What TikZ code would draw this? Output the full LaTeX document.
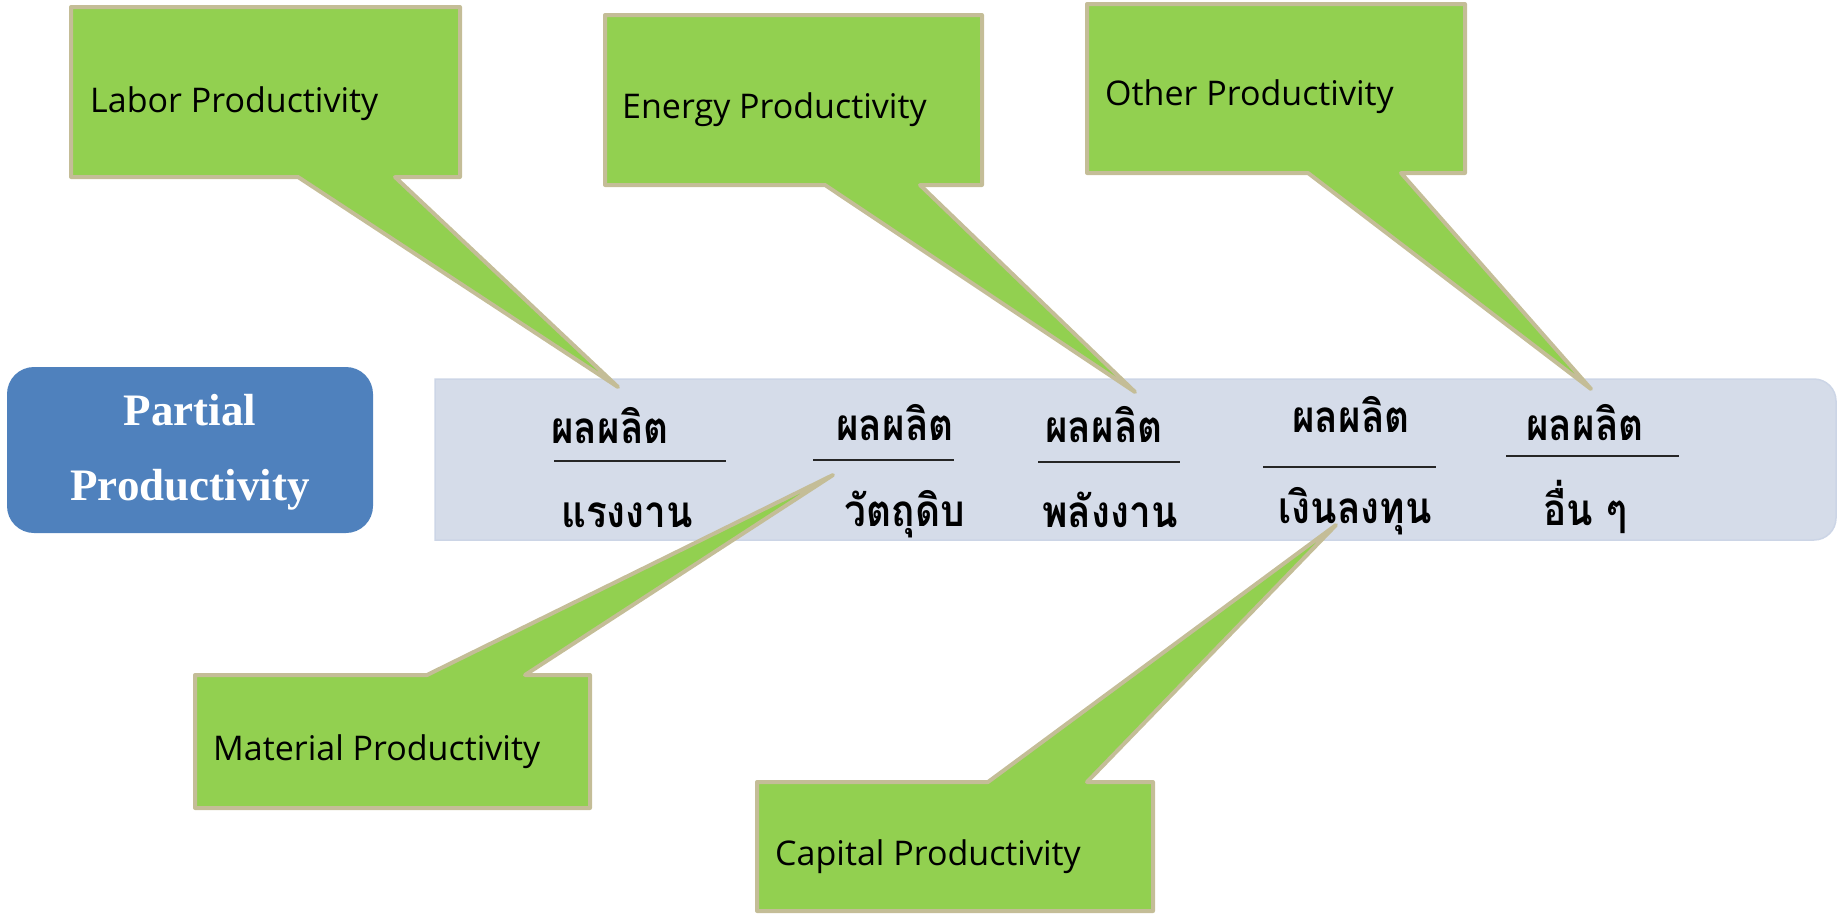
\documentclass[tikz,border=0pt]{standalone}
\usepackage{fontspec}
\newfontfamily\calfont{Open Sans}
\newfontfamily\serfont{Liberation Serif}
\newfontfamily\thaifont[Script=Thai, FakeStretch=0.88]{Loma}
\definecolor{callgreen}{HTML}{92D050}
\definecolor{calledge}{HTML}{C4BD97}
\definecolor{headblue}{HTML}{4F81BD}
\definecolor{bandfill}{HTML}{D5DCE9}
\definecolor{bandedge}{HTML}{CCD5E6}
\tikzset{
  callshape/.style={fill=callgreen, draw=calledge, line width=4pt, line join=round},
  calltext/.style={anchor=base west, inner sep=0pt, font=\calfont\fontsize{34}{40}\selectfont},
  thaitext/.style={anchor=base, inner sep=0pt, font=\thaifont\bfseries\fontsize{44}{48}\selectfont},
  fracbar/.style={line width=2pt, draw=black!85},
  headtext/.style={anchor=base, inner sep=0pt, text=white, font=\serfont\bfseries\fontsize{45}{50}\selectfont}
}
\begin{document}
\begin{tikzpicture}[x=1pt,y=-1pt]
\useasboundingbox (0,0) rectangle (1839,914);

% title block on the left
\fill[headblue, rounded corners=27pt] (7,367) rectangle (373,533);
\node[headtext] (t1) at (190,425) {Partial};
\node[headtext] (t2) at (190,500) {Productivity};

% light band holding the ratios
\path[fill=bandfill, draw=bandedge, line width=1.5pt]
  (435,379) -- (1814,379) arc[start angle=90, end angle=0, radius=22pt]
  -- (1836,518) arc[start angle=0, end angle=-90, radius=22pt]
  -- (435,540) -- cycle;

% ratios: output over each input
\node[thaitext] (n1) at (610,443) {ผลผลิต};
\node[thaitext] (d1) at (627,527) {แรงงาน};
\draw[fracbar] (554,461) -- (726,461);

\node[thaitext] (n2) at (895,440) {ผลผลิต};
\node[thaitext] (d2) at (905,526) {วัตถุดิบ};
\draw[fracbar] (813,460) -- (954,460);

\node[thaitext] (n3) at (1104,442) {ผลผลิต};
\node[thaitext] (d3) at (1110,527) {พลังงาน};
\draw[fracbar] (1038,462) -- (1180,462);

\node[thaitext] (n4) at (1351,432) {ผลผลิต};
\node[thaitext] (d4) at (1355,523) {เงินลงทุน};
\draw[fracbar] (1263,467) -- (1436,467);

\node[thaitext] (n5) at (1585,440) {ผลผลิต};
\node[thaitext] (d5) at (1585,525) {อื่น ๆ};
\draw[fracbar] (1506,456) -- (1679,456);

% callout tips
\coordinate (tipL) at (618,387);
\coordinate (tipE) at (1135,392);
\coordinate (tipO) at (1591,389);
\coordinate (tipM) at (833,475);
\coordinate (tipC) at (1336,525);

% callouts above the band
\draw[callshape] (71,7) -- (460,7) -- (460,177) -- (395,177) -- (tipL) -- (298,177) -- (71,177) -- cycle;
\node[calltext] (cL) at (90,112) {Labor Productivity};

\draw[callshape] (605,15) -- (982,15) -- (982,185) -- (920,185) -- (tipE) -- (825,185) -- (605,185) -- cycle;
\node[calltext] (cE) at (622,118) {Energy Productivity};

\draw[callshape] (1087,4) -- (1465,4) -- (1465,173) -- (1401,173) -- (tipO) -- (1308,173) -- (1087,173) -- cycle;
\node[calltext] (cO) at (1105,105) {Other Productivity};

% callouts below the band
\draw[callshape] (195,675) -- (427,675) -- (tipM) -- (525,675) -- (590,675) -- (590,808) -- (195,808) -- cycle;
\node[calltext] (cM) at (213,760) {Material Productivity};

\draw[callshape] (757,782) -- (988,782) -- (tipC) -- (1087,782) -- (1153,782) -- (1153,911) -- (757,911) -- cycle;
\node[calltext] (cC) at (775,865) {Capital Productivity};
\end{tikzpicture}
\end{document}
